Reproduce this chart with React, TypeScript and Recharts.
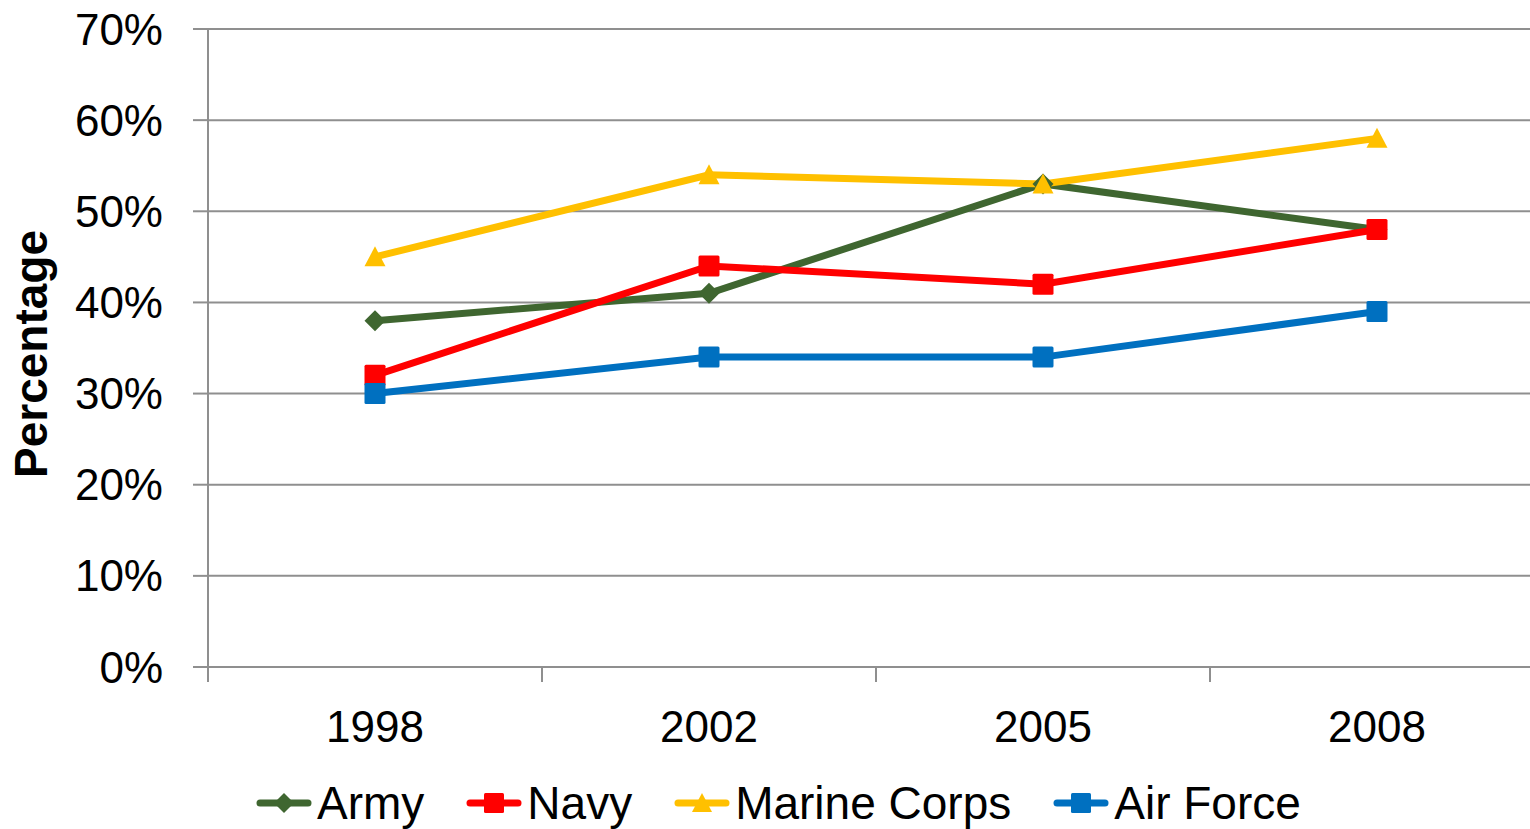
import { LineChart, Line, XAxis, YAxis, CartesianGrid, Legend } from "recharts";

const years = ["1998", "2002", "2005", "2008"];
const army = [38, 41, 53, 48];
const navy = [32, 44, 42, 48];
const marineCorps = [45, 54, 53, 58];
const airForce = [30, 34, 34, 39];
const yTicks = [0, 10, 20, 30, 40, 50, 60, 70];

const chartData = years.map((year, i) => ({
  year,
  army: army[i],
  navy: navy[i],
  marine: marineCorps[i],
  air: airForce[i],
}));

const CHART_W = 1544;
const CHART_H = 829;
const Y_AXIS_W = 208;
const PLOT_W = CHART_W - Y_AXIS_W;
const HALF_BAND = PLOT_W / years.length / 2;

const FONT = '"Liberation Sans", Arial, sans-serif';
const GRID = "#8f8f8f";

const series = [
  { key: "army", name: "Army", color: "#3F6630", shape: "diamond" },
  { key: "navy", name: "Navy", color: "#FF0000", shape: "square" },
  { key: "marine", name: "Marine Corps", color: "#FFC000", shape: "triangle" },
  { key: "air", name: "Air Force", color: "#0070C0", shape: "square" },
];

const Marker = ({ cx, cy, shape, color, size }: any) => {
  const h = size / 2;
  if (shape === "diamond") {
    return <polygon points={`${cx},${cy - h} ${cx + h},${cy} ${cx},${cy + h} ${cx - h},${cy}`} fill={color} />;
  }
  if (shape === "triangle") {
    return <polygon points={`${cx},${cy - h} ${cx + h},${cy + h * 0.9} ${cx - h},${cy + h * 0.9}`} fill={color} />;
  }
  return <rect x={cx - h} y={cy - h} width={size} height={size} rx={1.5} fill={color} />;
};

const makeDot = (shape: string, color: string) => (props: any) => {
  const { cx, cy, index } = props;
  if (cx == null || cy == null) return <g key={`d-${index}`} />;
  return <Marker key={`d-${index}`} cx={cx} cy={cy} shape={shape} color={color} size={21} />;
};

const XTick = ({ x, y, payload }: any) => (
  <g>
    <line x1={x - HALF_BAND} x2={x - HALF_BAND} y1={y} y2={y + 15} stroke={GRID} strokeWidth={2} />
    <text x={x} y={y + 75} textAnchor="middle" fontSize={44} fill="#000" fontFamily={FONT}>
      {payload.value}
    </text>
  </g>
);

const YLabel = ({ viewBox }: any) => {
  const cx = 31;
  const cy = viewBox.y + viewBox.height / 2 + 6;
  return (
    <text
      x={cx}
      y={cy}
      transform={`rotate(-90, ${cx}, ${cy})`}
      textAnchor="middle"
      dominantBaseline="central"
      fontSize={46}
      fontWeight="bold"
      fontFamily={FONT}
      fill="#000"
    >
      Percentage
    </text>
  );
};

const LegendContent = () => (
  <div style={{ display: "flex", alignItems: "center", height: 62, paddingLeft: 256, paddingTop: 10, boxSizing: "border-box", fontFamily: FONT }}>
    {series.map((s) => (
      <div key={s.key} style={{ display: "flex", alignItems: "center", marginRight: 42 }}>
        <svg width={56} height={30}>
          <line x1={4} x2={52} y1={15} y2={15} stroke={s.color} strokeWidth={7} strokeLinecap="round" />
          <Marker cx={28} cy={15} shape={s.shape} color={s.color} size={20} />
        </svg>
        <span style={{ fontSize: 46, lineHeight: "46px", color: "#000", marginLeft: 5, whiteSpace: "nowrap" }}>
          {s.name}
        </span>
      </div>
    ))}
  </div>
);

export default function App() {
  return (
    <div style={{ position: "absolute", left: 0, top: 0, width: 1530, height: 829, overflow: "hidden", background: "#fff" }}>
      <LineChart
        width={CHART_W}
        height={CHART_H}
        data={chartData}
        margin={{ top: 29, right: 0, left: 0, bottom: 0 }}
        style={{ fontFamily: FONT }}
      >
        <CartesianGrid vertical={false} stroke={GRID} strokeWidth={2} />
        <XAxis
          dataKey="year"
          scale="band"
          height={100}
          tickLine={false}
          tickSize={0}
          tickMargin={0}
          tick={<XTick />}
          axisLine={{ stroke: GRID, strokeWidth: 2 }}
          interval={0}
        />
        <YAxis
          width={Y_AXIS_W}
          domain={[0, 70]}
          ticks={yTicks}
          tickFormatter={(v: number) => `${v}%`}
          tickSize={15}
          tickMargin={30}
          tick={{ fontSize: 44, fill: "#000", fontFamily: FONT }}
          tickLine={{ stroke: GRID, strokeWidth: 2 }}
          axisLine={{ stroke: GRID, strokeWidth: 2 }}
          label={<YLabel />}
        />
        <Legend verticalAlign="bottom" align="left" content={<LegendContent />} wrapperStyle={{ left: 0, width: CHART_W }} />
        {series.map((s) => (
          <Line
            key={s.key}
            dataKey={s.key}
            name={s.name}
            stroke={s.color}
            strokeWidth={7}
            dot={makeDot(s.shape, s.color)}
            activeDot={false}
            isAnimationActive={false}
          />
        ))}
      </LineChart>
    </div>
  );
}
